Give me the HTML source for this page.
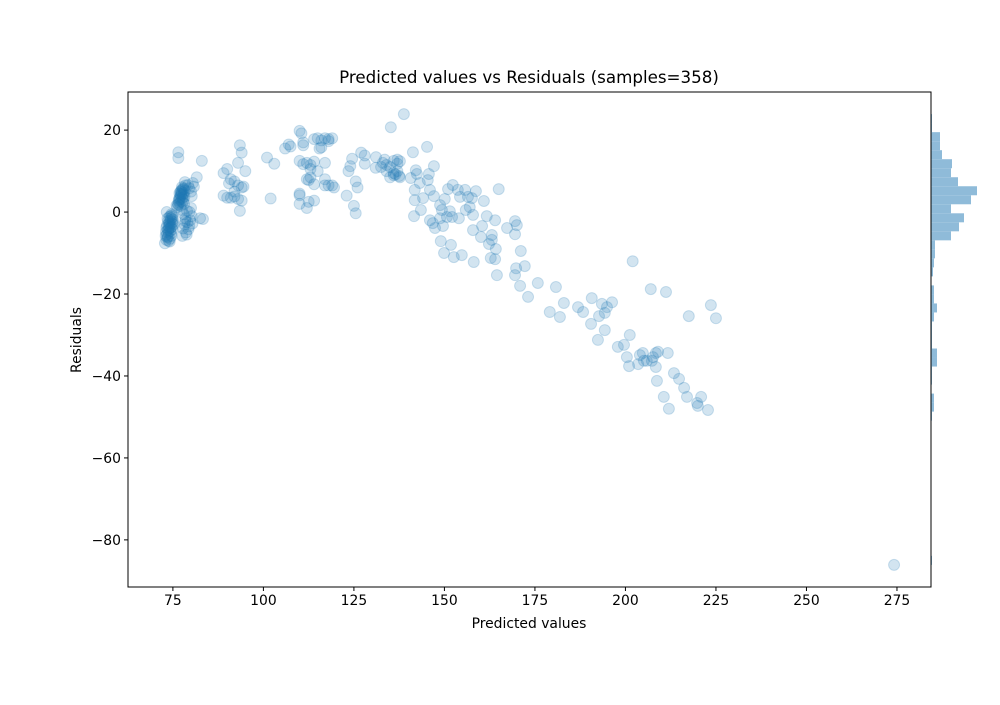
<!DOCTYPE html>
<html>
<head>
<meta charset="utf-8">
<style>
  html,body{margin:0;padding:0;background:#fff;}
  svg text{font-family:"DejaVu Sans","Liberation Sans",sans-serif;fill:#000;}
</style>
</head>
<body>
<svg id="chart" width="1000" height="700" viewBox="0 0 1000 700" xmlns="http://www.w3.org/2000/svg">
  <rect x="0" y="0" width="1000" height="700" fill="#fff"/>
  <text x="529" y="83" font-size="16.7" text-anchor="middle">Predicted values vs Residuals (samples=358)</text>
  <g id="hist"></g>
  <g id="points"></g>
  <g id="axes"></g>
  <text x="529" y="628" font-size="13.9" text-anchor="middle">Predicted values</text>
  <text x="0" y="0" font-size="13.9" text-anchor="middle" transform="translate(81,340) rotate(-90)">Residuals</text>
</svg>
<script>
const xTicks = [75, 100, 125, 150, 175, 200, 225, 250, 275];
const yTicks = [20, 0, -20, -40, -60, -80];
const predicted = [
72.8,73.2,73.5,73.3,73.8,73.6,74.0,73.9,74.2,74.1,74.4,74.5,74.3,74.6,73.3,73.1,73.4,73.7,74.8,74.9,75.0,73.0,74.2,74.5,73.8,74.0,74.7,73.6,74.3,73.9,75.2,74.6,73.5,74.8,73.2,74.1,75.0,74.4,73.7,74.9,
76.2,76.5,76.8,76.6,77.0,76.9,77.2,77.1,77.4,77.3,77.6,77.8,77.5,78.0,78.2,77.9,77.7,76.4,77.0,78.3,76.7,77.3,77.8,78.5,78.3,76.5,76.5,77.1,77.6,78.1,76.0,77.4,78.0,76.8,
77.5,78.0,78.5,79.0,78.2,77.8,78.6,77.6,78.8,79.5,79.8,80.2,79.6,80.0,78.9,79.3,80.4,78.4,82.5,83.3,80.2,80.5,81.6,80.8,83.0,79.5,80.0,79.2,
89,90,91,92,91,92,93,89,90,93,93.5,94,93.5,94,93,94.5,95,94,92,90.5,
101,102,103,
106,107,107.5,110,110.5,111,111,110,111,112,113,114,112,112.5,113,114,110,110,110,112,112.5,114,114,115,115.5,116,116,117,118,118,119,117,117,117,118,119,119.5,113,115,
123,123.5,124,124.5,125,125.5,125.5,126,127,128,128,131,
133,133.5,134,135,135.2,134,135,136,136.5,136,137,137,137.5,136,137,131.1,132.5,
138.8,141.3,145.2,137.7,147.1,142.1,145.7,142.4,140.7,137.7,143.2,145.4,141.8,146,147.1,141.8,144.1,143.5,141.6,146,147.4,146.8,150.1,148.8,149.3,151,152.3,153.7,155.7,156.5,157.6,158.7,154.3,160.9,165,157,155.9,157.9,151.5,148.8,150.7,152.1,154,149.6,161.7,164,157.9,160.4,160.1,163.1,163.1,162.3,164.2,169.5,170,167.3,169.5,149,151.8,149.9,152.6,154.8,158.1,171.1,162.8,164,172.2,169.8,164.5,169.5,202,
170.9,175.8,173.1,180.8,179.1,181.9,183,186.9,188.3,190.7,193.5,196.3,194.9,194.3,192.7,190.5,194.3,192.4,201.2,199.6,197.9,200.4,201,203.5,204,204.8,205.1,205.9,207.3,207.6,208.4,209,208.4,211.7,207,211.2,217.5,223.6,225,213.4,214.8,216.2,217,210.6,212,219.8,220,220.9,222.8,208.7,274.2
];
const residuals = [
-7.6,-6.8,-6.2,-5.5,-5.0,-4.5,-4.0,-3.5,-3.0,-2.5,-2.0,-1.5,-1.0,-0.5,0.0,-4.8,-3.2,-2.2,-2.8,-4.2,-1.8,-5.8,-6.5,-5.2,-7.0,-1.2,-3.6,-6.0,-4.6,-2.8,-3.0,-5.8,-1.6,-0.8,-3.8,-7.2,-2.4,-3.8,-4.2,-1.2,
1.2,1.8,2.3,2.8,3.2,3.6,4.0,4.4,4.8,5.2,5.5,5.8,6.1,4.6,3.8,3.0,2.4,2.0,1.5,5.2,3.2,2.6,4.2,6.5,7.3,14.6,13.2,5.0,3.4,2.0,1.6,4.4,5.6,4.6,
0.5,-0.5,-1.5,-2.5,-3.0,-4.0,-5.0,-5.8,-5.5,-3.5,-2.0,-1.0,0.0,1.0,0.3,-4.2,-2.8,-2.2,-1.5,-1.7,3.9,7.1,8.5,6.2,12.5,5.8,5.0,6.6,
9.5,10.5,8,7.5,3.5,3.8,3.2,4,3.5,12,16.3,14.5,0.3,6,6.5,6.2,10,2.8,5,7,
13.3,3.3,11.8,
15.5,16.5,16,19.8,19.2,17,16.3,12.5,11.7,12,11.5,12.3,8,7.8,10.5,6.8,4.5,4.1,2,1,2.5,2.8,17.8,18,15.5,15.8,17.5,18,17.8,17.3,18,12,8,6.5,6.5,6.5,6,8.5,10,
4,10,11.2,13,1.5,-0.3,7.5,6,14.5,13.8,11.8,10.8,
12,12.8,11.5,11,20.7,10,8.5,9.5,9.2,12.5,12.8,11.8,8.8,9,10,13.4,11,
23.9,14.6,15.9,12.4,11.2,10.2,9.3,9.3,8.3,8.5,7.1,7.8,5.4,5.4,3.9,2.9,3.4,0.5,-1,-2,-3.9,-2.7,3.2,1.7,0.5,5.6,6.6,5.4,5.4,3.7,3.4,5.1,3.7,2.7,5.6,1.2,0.5,-0.7,0.2,-1.5,-1.2,-1.2,-1.5,-3.4,-1,-2,-4.4,-3.4,-6.1,-5.6,-6.8,-7.8,-9,-2.2,-3.2,-3.9,-5.4,-7.1,-8,-10,-11,-10.5,-12.2,-9.5,-11.2,-11.5,-13.2,-13.7,-15.4,-15.4,-12,
-18,-17.3,-20.7,-18.3,-24.4,-25.6,-22.2,-23.2,-24.4,-21,-22.4,-22,-23.2,-24.6,-25.4,-27.3,-28.8,-31.2,-30,-32.4,-32.9,-35.4,-37.6,-37.1,-34.9,-34.4,-36.3,-36.3,-36.3,-35.4,-34.4,-34.1,-37.8,-34.4,-18.8,-19.5,-25.4,-22.7,-25.9,-39.3,-40.7,-42.9,-45.1,-45.1,-48,-46.6,-47.3,-45.1,-48.3,-41.2,-86.1
];
const histCounts = [1,1,9,9,11,21,20,27,46,40,20,33,28,20,4,4,3,2,0,3,3,6,3,1,1,1,6,6,1,1,0,3,3,1,0,0,0,0,0,0,0,0,0,0,0,0,0,0,0,1];
const histTop = 23.9;
const histBinWidth = 2.2;

const NS = "http://www.w3.org/2000/svg";
const L = 128, R = 931, T = 92, B = 587;
const X0 = 62.6, X1 = 284.4, Y0 = -91.5, Y1 = 29.3;
const xs = v => L + (v - X0) / (X1 - X0) * (R - L);
const ys = v => B - (v - Y0) / (Y1 - Y0) * (B - T);
function mk(tag, attrs, parent){
  const e = document.createElementNS(NS, tag);
  for (const k in attrs) e.setAttribute(k, attrs[k]);
  parent.appendChild(e);
  return e;
}
const hg = document.getElementById('hist');
const pxPerCount = 1.0;
histCounts.forEach((c, i) => {
  if (c <= 0) return;
  const top = histTop - i * histBinWidth;
  const bot = top - histBinWidth;
  const r = mk('rect', {x: R, y: ys(top), width: c * pxPerCount, height: ys(bot) - ys(top), fill: '#8fbbd9'}, hg);
  
  
});
const pg = document.getElementById('points');
predicted.forEach((p, i) => {
  const c = mk('circle', {cx: xs(p), cy: ys(residuals[i]), r: 5.5, fill: '#1f77b4', 'fill-opacity': 0.2, stroke: '#1f77b4', 'stroke-opacity': 0.2, 'stroke-width': 1}, pg);
  
  
});
const ag = document.getElementById('axes');
const frame = mk('rect', {x: L, y: T, width: R - L, height: B - T, fill: 'none', stroke: '#000', 'stroke-width': 1}, ag);


xTicks.forEach(t => {
  const x = xs(t);
  const ln = mk('line', {x1: x, y1: B, x2: x, y2: B + 4, stroke: '#000'}, ag);
  
  
  const tx = mk('text', {x: x, y: B + 18, 'font-size': 13.9, 'text-anchor': 'middle'}, ag);
  tx.textContent = String(t);
  
  
});
yTicks.forEach(t => {
  const y = ys(t);
  const ln = mk('line', {x1: L - 4, y1: y, x2: L, y2: y, stroke: '#000'}, ag);
  
  
  const tx = mk('text', {x: L - 7, y: y + 5, 'font-size': 13.9, 'text-anchor': 'end'}, ag);
  tx.textContent = String(t).replace('-', '\u2212');
  
  
});
</script>
</body>
</html>
